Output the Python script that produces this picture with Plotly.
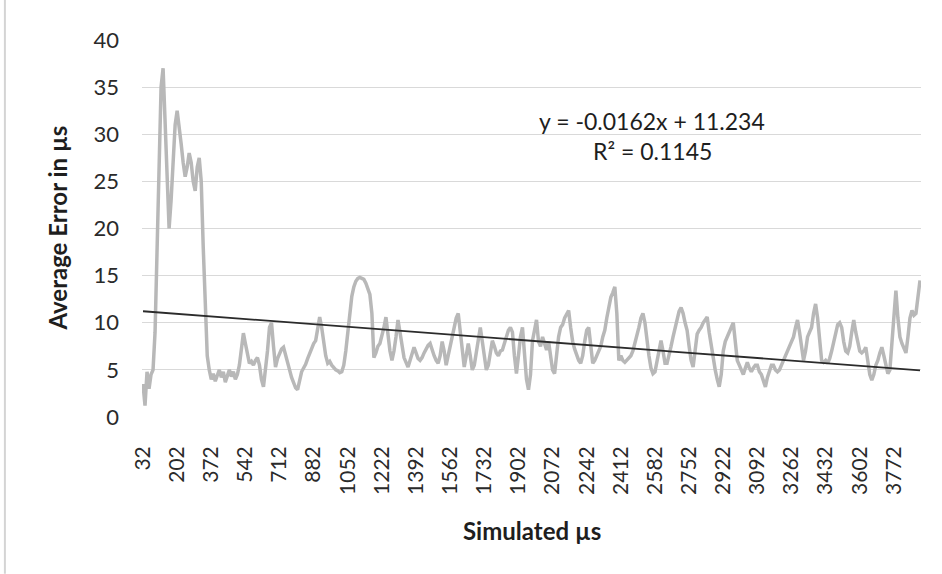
import plotly.graph_objects as go

# ---- data (one value per simulated step of 10 µs) ----
avg_error = [
    # 32 .. 192
    3.5, 1.2, 4.8, 3, 4.5, 5, 9, 18, 28, 35, 37, 31, 25, 20, 23, 28, 31,
    # 202 ..
    32.5, 31, 29, 27, 25.5, 26.5, 28, 27, 25, 24, 26.5, 27.5, 25, 18, 11, 6.5, 5,
    # 372 ..
    4, 4.6, 3.8, 4.4, 5, 4.2, 4.8, 3.7, 4.5, 5, 4.3, 4.8, 4, 4.5, 5.5, 7, 8.9,
    # 542 ..
    7.8, 6.5, 5.7, 5.9, 5.5, 6, 6.3, 5.5, 4, 3.2, 4.8, 7, 9.5, 10, 7.5, 5.3, 6.2,
    # 712 ..
    6.8, 7.2, 7.4, 6.5, 5.5, 5, 4.2, 3.6, 3.1, 2.9, 3.8, 4.8, 5.2, 5.6, 6.2, 6.8, 7.3,
    # 882 ..
    7.8, 8.1, 9.2, 10.6, 9.5, 8, 6.5, 5.7, 5.9, 5.5, 5.2, 5, 4.9, 4.7, 4.8, 5.5, 7,
    # 1052 ..
    9, 11, 12.8, 13.8, 14.4, 14.7, 14.8, 14.7, 14.6, 14.2, 13.5, 13, 11, 6.3, 6.8, 7.5, 7.8,
    # 1222 ..
    8.5, 9.5, 10.6, 8.5, 7, 6, 7, 8.5, 10.3, 9, 7.5, 6.3, 5.8, 5.3, 6, 6.8, 7.4,
    # 1392 ..
    6.8, 6.2, 6, 6.3, 6.8, 7.3, 7.6, 7.8, 7, 6.5, 6, 5.7, 6.5, 8, 7, 5.5, 6.5,
    # 1562 ..
    7.5, 8.5, 9.5, 10.5, 11, 9, 6.5, 5.3, 6.5, 7.8, 6.5, 5, 5.5, 7, 8.5, 9.5, 8,
    # 1732 ..
    6.5, 5, 5.5, 7, 8.1, 7.5, 6.8, 6.5, 7, 7.1, 7.8, 8.5, 9.2, 9.5, 9, 6.5, 4.6,
    # 1902 ..
    6.5, 8.5, 9.5, 7, 4, 2.9, 4.5, 8.1, 9, 10.3, 8, 7.5, 8.5, 7.8, 7.1, 8, 6.5,
    # 2072 ..
    5, 4.6, 6.5, 8.5, 9.5, 9.8, 10.5, 11, 11.3, 9.5, 8, 7.2, 6.5, 6, 5.7, 6.5, 8,
    # 2242 ..
    9.2, 9.5, 7.5, 5.7, 6, 6.5, 6.8, 7.5, 8.5, 9.2, 10.5, 11.5, 12.7, 13.2, 13.8, 11, 6,
    # 2412 ..
    6.5, 6, 5.8, 6, 6.2, 6.5, 7, 7.8, 8.5, 9.5, 10.5, 11, 10, 8, 6.5, 5.2, 4.6,
    # 2582 ..
    4.8, 6, 7, 8.1, 7, 5.7, 5.7, 6.5, 7.5, 8.5, 9.5, 10.5, 11.2, 11.6, 11, 10, 9.2,
    # 2752 ..
    7.5, 6, 5.3, 7, 8.8, 9.2, 9.5, 10, 10.3, 10.6, 9, 7.5, 6, 5, 4, 3.2, 4.5,
    # 2922 ..
    7, 8, 8.5, 9, 9.5, 10, 8, 6, 5.5, 5, 4.5, 5.2, 5.8, 5.2, 4.8, 5.2, 5.5,
    # 3092 ..
    5.5, 4.8, 4.5, 3.8, 3.2, 4.2, 5, 5.5, 5.5, 5, 4.8, 5, 5.5, 6, 6.5, 7, 7.5,
    # 3262 ..
    7.8, 8.5, 9.5, 10.3, 9, 7.5, 6, 7, 8.5, 9, 9.5, 11, 12, 10.5, 8, 6, 5.8,
    # 3432 ..
    6, 5.7, 6.2, 7, 8, 9, 9.8, 10, 9.5, 8, 7, 6.8, 7.5, 9, 10.3, 9, 8,
    # 3602 ..
    7, 6.8, 7, 7.4, 6, 4.5, 3.9, 4.5, 5.5, 6, 6.8, 7.4, 6.5, 5.5, 4.6, 5, 8,
    # 3772 .. 3902
    11, 13.4, 10.5, 8.5, 7.8, 7.2, 6.8, 8.5, 10.5, 11.3, 10.8, 11, 12.5, 14.5,
]

first_us = 32
step_us = 10
simulated_us = [str(first_us + step_us * i) for i in range(len(avg_error))]

tick_labels = ["32", "202", "372", "542", "712", "882", "1052", "1222", "1392",
               "1562", "1732", "1902", "2072", "2242", "2412", "2582", "2752",
               "2922", "3092", "3262", "3432", "3602", "3772"]
y_ticks = [0, 5, 10, 15, 20, 25, 30, 35, 40]

trend_slope = -0.0162
trend_intercept = 11.234
trend_r2 = 0.1145

# linear trendline (Excel: x = category index 1..N)
trend_y = [trend_slope * (i + 1) + trend_intercept for i in range(len(avg_error))]

FONT = "Lato"
TXT = "#2a2a2a"

fig = go.Figure()
fig.add_trace(go.Scatter(
    x=simulated_us, y=avg_error, mode="lines",
    line=dict(color="#b8b8b8", width=3.5), hoverinfo="skip", showlegend=False))
fig.add_trace(go.Scatter(
    x=simulated_us, y=trend_y, mode="lines",
    line=dict(color="#2b2b2b", width=1.8), hoverinfo="skip", showlegend=False))

N = len(avg_error)
fig.update_layout(
    width=942, height=574,
    margin=dict(l=142, r=21, t=40, b=157),
    paper_bgcolor="white", plot_bgcolor="white",
    font=dict(family=FONT, color=TXT),
    xaxis=dict(
        type="category", range=[-0.5, N - 0.5],
        tickmode="array", tickvals=tick_labels, ticktext=tick_labels,
        tickangle=-90, tickfont=dict(size=21, family=FONT, color=TXT),
        showgrid=False, zeroline=False, showline=False, ticks="",
        ticklabelstandoff=24,
    ),
    yaxis=dict(
        range=[0, 40], tickmode="array", tickvals=y_ticks,
        tickfont=dict(size=22, family=FONT, color=TXT),
        showgrid=True, gridcolor="#d9d9d9", gridwidth=1.3,
        zeroline=False, showline=False, ticks="",
        ticklabelstandoff=22,
    ),
    annotations=[
        dict(text="<b>Simulated µs</b>", xref="paper", yref="paper",
             x=0.5, y=-0.30, xanchor="center", yanchor="middle",
             showarrow=False, font=dict(size=24, family=FONT, color="#1e1e1e")),
        dict(text="<b>Average Error in µs</b>", xref="paper", yref="paper",
             x=-0.109, y=0.5, xanchor="center", yanchor="middle", textangle=-90,
             showarrow=False, font=dict(size=24, family=FONT, color="#1e1e1e")),
        dict(text="y = -0.0162x + 11.234", xref="paper", yref="paper",
             x=0.655, y=0.786, xanchor="center", yanchor="middle",
             showarrow=False, font=dict(size=23, family=FONT, color="#1e1e1e")),
        dict(text="R² = " + str(trend_r2), xref="paper", yref="paper",
             x=0.655, y=0.705, xanchor="center", yanchor="middle",
             showarrow=False, font=dict(size=23, family=FONT, color="#1e1e1e")),
    ],
    shapes=[
        dict(type="line", xref="paper", yref="paper",
             x0=-0.176, x1=-0.176, y0=-0.416, y1=1.106,
             line=dict(color="#d4d4d4", width=2)),
    ],
)

fig.write_html("out.html")
